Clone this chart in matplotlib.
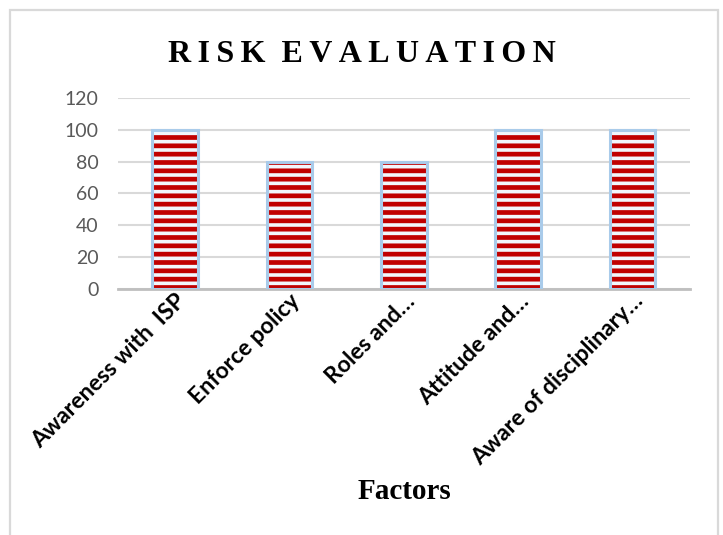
import matplotlib
matplotlib.use("Agg")
import matplotlib.pyplot as plt
from matplotlib.patches import Rectangle

# risk scores per factor
factors = ["Awareness with  ISP", "Enforce policy", "Roles and\u2026",
           "Attitude and\u2026", "Aware of disciplinary\u2026"]
scores = [100, 80, 80, 100, 100]
yticks = [0, 20, 40, 60, 80, 100, 120]

plt.rcParams["hatch.linewidth"] = 3.4

fig = plt.figure(figsize=(7.23, 5.35), dpi=100)
ax = fig.add_axes([0.163, 0.460, 0.791, 0.357])

x = list(range(len(factors)))
# striped fill
ax.bar(x, scores, width=0.4, color="#F2F7FC", edgecolor="#C00000",
       linewidth=0, hatch="--", zorder=3)
# light blue outline
ax.bar(x, scores, width=0.4, fill=False, edgecolor="#A9CBEA",
       linewidth=2.2, zorder=4)

ax.set_ylim(0, 120)
ax.set_xlim(-0.5, len(factors) - 0.5)
ax.set_yticks(yticks)
ax.yaxis.grid(True, color="#D9D9D9", linewidth=1.5, zorder=0)
ax.set_axisbelow(True)
for s in ["top", "right", "left"]:
    ax.spines[s].set_visible(False)
ax.spines["bottom"].set_color("#BFBFBF")
ax.spines["bottom"].set_linewidth(2)
ax.tick_params(axis="y", length=0, pad=14, labelsize=14, labelcolor="#595959")
ax.tick_params(axis="x", length=0, pad=1)
for lab in ax.get_yticklabels():
    lab.set_fontfamily("Lato")

ax.set_xticks(x)
ax.set_xticklabels(factors, rotation=45, ha="right", va="top",
                   rotation_mode="anchor", fontsize=16.5, fontweight="bold",
                   fontfamily="Lato", color="black")

title = "\u2009".join("RISK") + "  " + "\u2009".join("EVALUATION")
fig.text(0.500, 0.898, title, ha="center", va="center",
         fontsize=23, fontweight="bold",
         fontfamily=["Liberation Serif", "DejaVu Serif"])
fig.text(0.559, 0.082, "Factors", ha="center", va="center",
         fontsize=21, fontweight="bold", fontfamily="Liberation Serif")

# outer chart frame
fig.patches.append(Rectangle((10 / 723, -0.05), 708 / 723, 1.05 - 10 / 535,
                             transform=fig.transFigure, fill=False,
                             edgecolor="#D9D9D9", linewidth=1.6))

fig.savefig("out.png", dpi=100)
